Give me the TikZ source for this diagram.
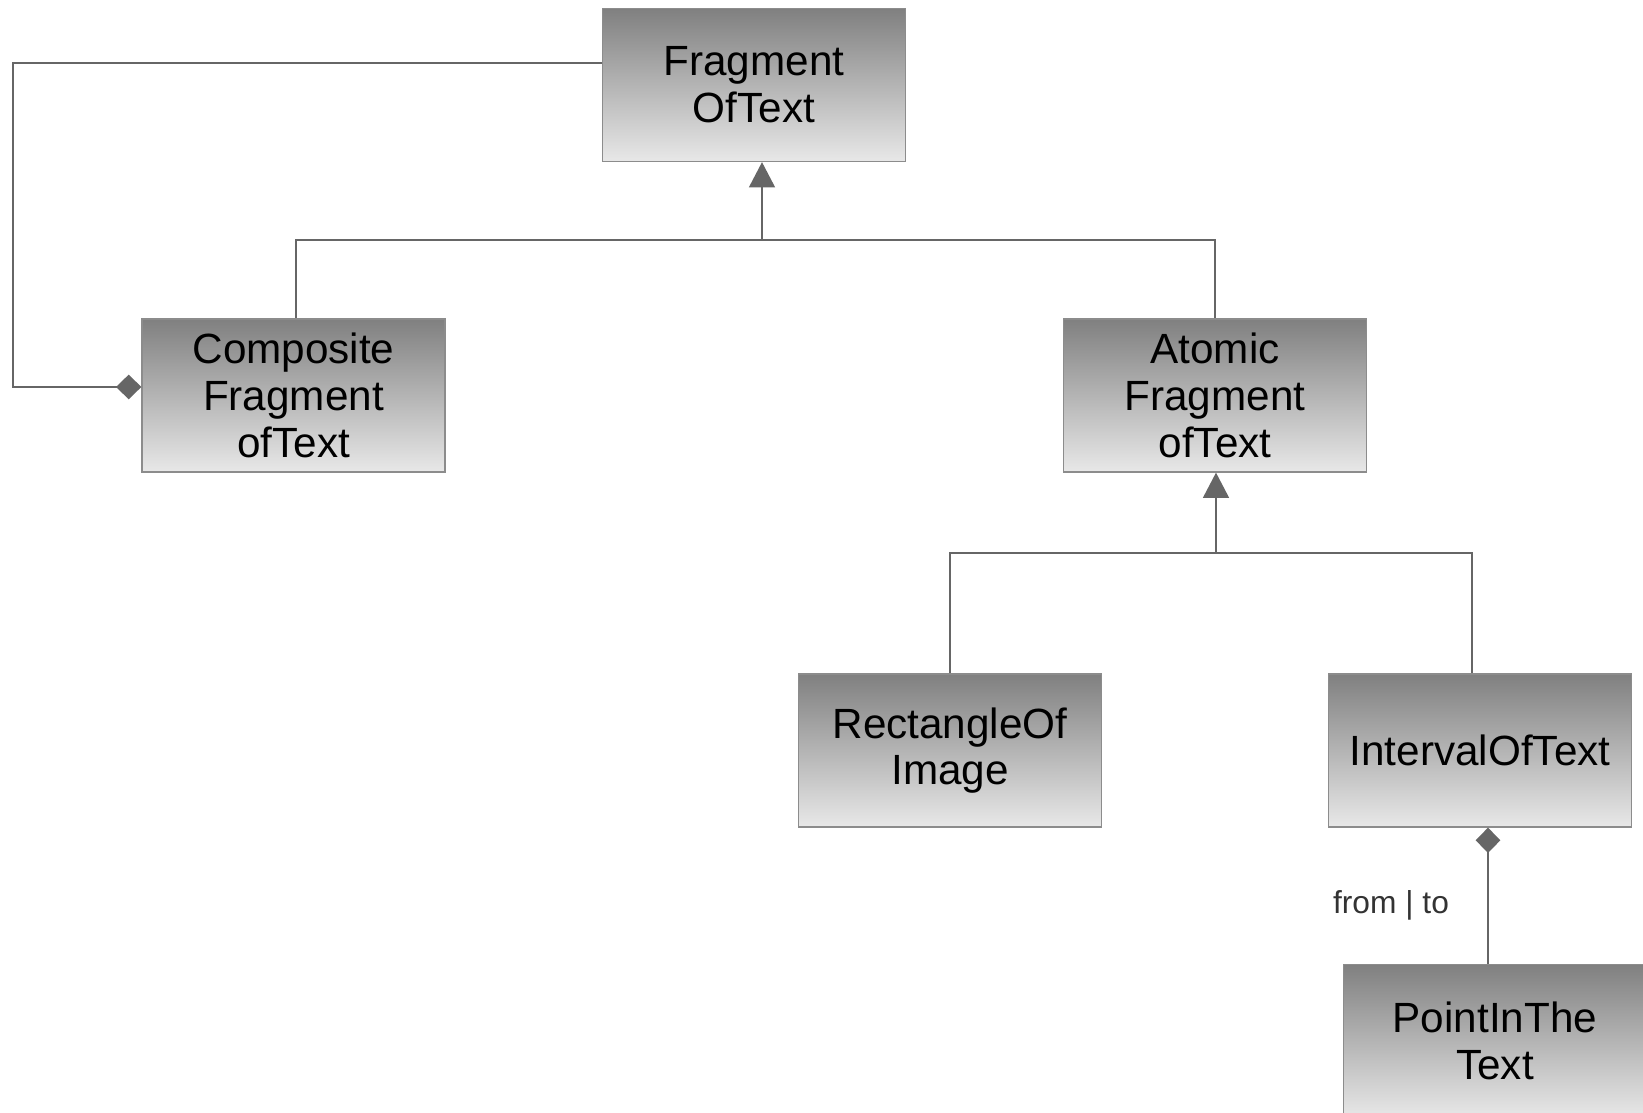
\documentclass[tikz,border=0pt]{standalone}
\usepackage{fontspec}
\setmainfont{Liberation Sans}
\usetikzlibrary{arrows.meta,calc}
\definecolor{boxtop}{RGB}{128,128,128}
\definecolor{boxbot}{RGB}{232,232,232}
\definecolor{boxline}{RGB}{140,140,140}
\definecolor{linegray}{RGB}{102,102,102}
\definecolor{labelgray}{RGB}{51,51,51}
\begin{document}
\begin{tikzpicture}[x=0.75pt,y=-0.75pt,
  classbox/.style={draw=boxline,line width=1.2pt,top color=boxtop,bottom color=boxbot,
    minimum width=227pt,minimum height=114.5pt,inner sep=0,align=center,
    font=\fontsize{31.7}{35}\selectfont},
  umlline/.style={draw=linegray,line width=1.3pt},
  inherit/.style={umlline,-{Triangle[length=19pt,width=19.5pt]}},
  whole/.style={umlline,{Diamond[length=19pt,width=18.5pt]}-}]
\useasboundingbox(0,0)rectangle(1643,1113);
\clip(0,0)rectangle(1643,1113);
% classes
\node[classbox](frag)at(754,85){Fragment\\OfText};
\node[classbox](comp)at(293.5,395.5){Composite\\Fragment\\ofText};
\node[classbox](atom)at(1215,395.5){Atomic\\Fragment\\ofText};
\node[classbox](rect)at(950,750.5){RectangleOf\\Image};
\node[classbox](intv)at(1480,750.5){IntervalOfText};
\node[classbox](pnt)at(1495,1041){PointInThe\\Text};
% generalisation
\coordinate(j1)at(762,240);
\draw[umlline]([xshift=2pt]comp.north)|-(j1)-|(atom.north);
\draw[inherit](j1)--(j1|-frag.south);
\coordinate(j2)at(1216,553);
\draw[umlline](rect.north)|-(j2)-|([xshift=-6pt]intv.north);
\draw[inherit](j2)--(j2|-atom.south);
% composition
\coordinate(bend)at(13,387);
\draw[whole]([yshift=6.4pt]comp.west)--(bend)|-([yshift=16.5pt]frag.west);
\coordinate(d2)at([xshift=6pt]intv.south);
\draw[whole](d2)--(d2|-pnt.north);
\node[font=\fontsize{23.8}{28}\selectfont,text=labelgray](lbl)at(1391,905){from | to};
\end{tikzpicture}
\end{document}
